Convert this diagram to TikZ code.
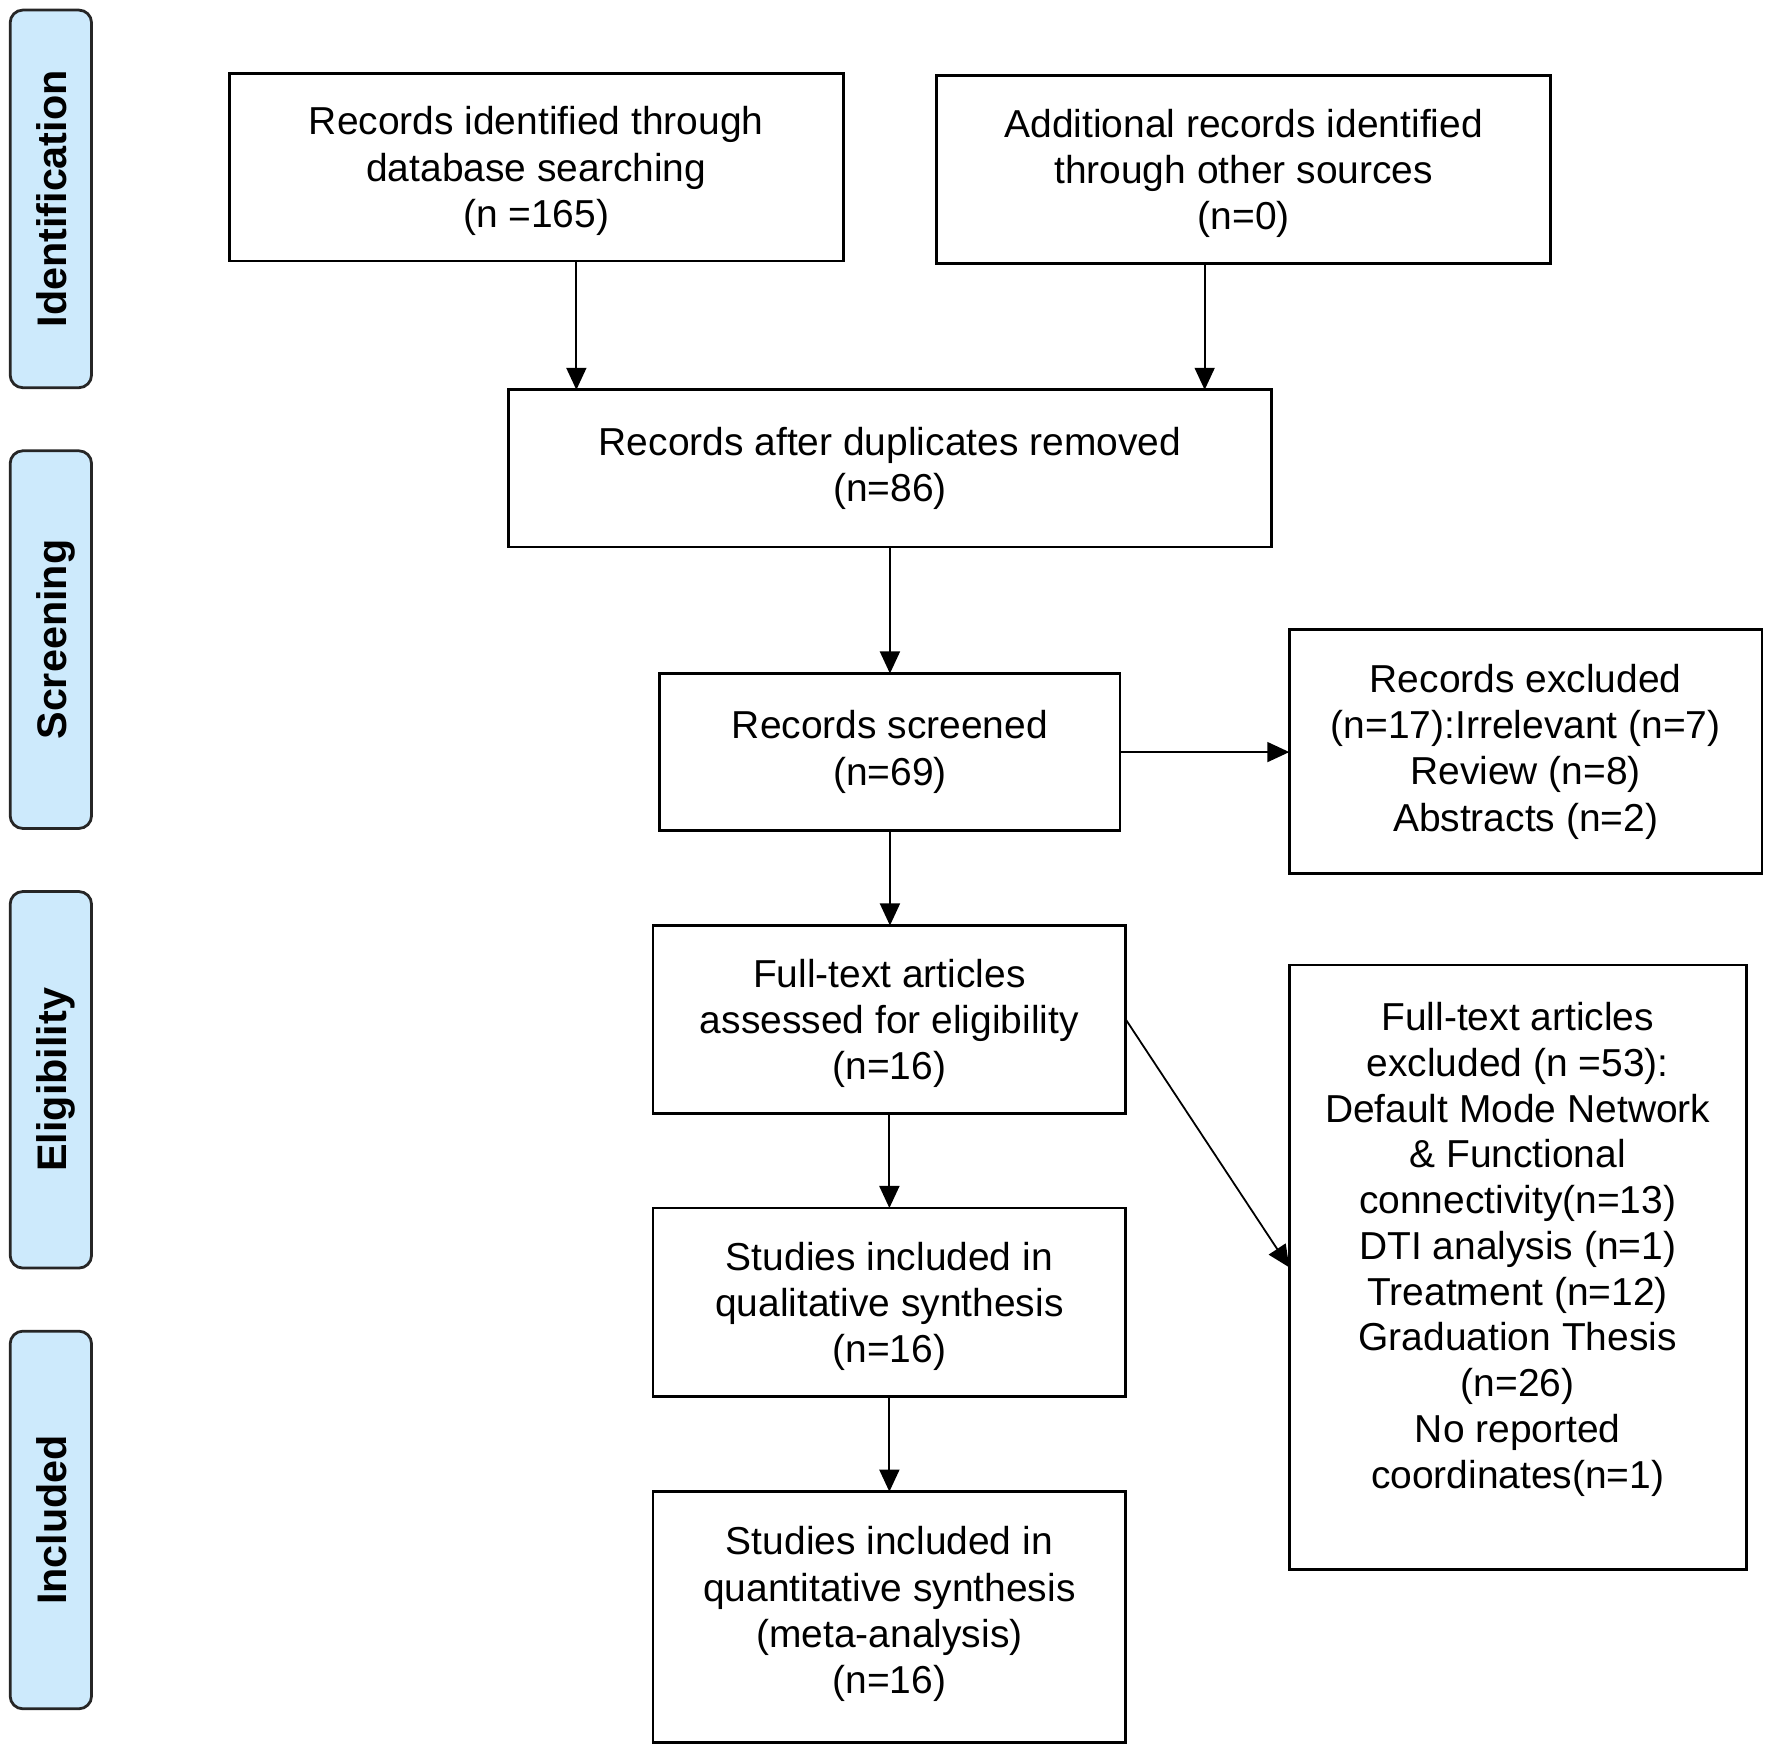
\documentclass[tikz,border=0pt]{standalone}
\usepackage{fontspec}
\setmainfont{Liberation Sans}
\usetikzlibrary{arrows.meta}
\definecolor{stageblue}{RGB}{205,234,252}
\begin{document}
\begin{tikzpicture}[x=0.01cm,y=-0.01cm,
  box/.style={draw=black, line width=0.7pt, fill=white, inner sep=0pt, outer sep=0pt,
    align=center, font=\fontsize{9.8}{11.67}\selectfont},
  low/.style={text depth=-1.3pt},
  stage/.style={draw=black!85, line width=0.7pt, fill=stageblue, rounded corners=3.2pt,
    rotate=90, inner sep=0pt, outer sep=0pt, minimum height=0.72cm,
    font=\fontsize{10.4}{12}\selectfont\bfseries, text height=0.78em, text depth=-0.05em},
  txt/.style={align=center, inner sep=0pt, font=\fontsize{9.8}{11.52}\selectfont},
  arr/.style={-{Triangle[length=0.195cm,width=0.177cm]}, line width=0.45pt}]
\useasboundingbox (0,0) rectangle (1568,1552);

% stage labels
\node[stage, minimum width=3.34cm] (s1) at (45,176) {Identification};
\node[stage, minimum width=3.34cm] (s2) at (45,566) {Screening};
\node[stage, minimum width=3.33cm] (s3) at (45,955.5) {Eligibility};
\node[stage, minimum width=3.34cm] (s4) at (45,1345) {Included};

% boxes
\node[box, low, minimum width=5.43cm, minimum height=1.66cm] (b1) at (474.5,148)
  {Records identified through\\database searching\\(n =165)};
\node[box, low, minimum width=5.43cm, minimum height=1.66cm] (b2) at (1100.5,150)
  {Additional records identified\\through other sources\\(n=0)};
\node[box, minimum width=6.75cm, minimum height=1.39cm] (b3) at (787.5,414.5)
  {Records after duplicates removed\\(n=86)};
\node[box, minimum width=4.07cm, minimum height=1.39cm] (b4) at (787.5,665.5)
  {Records screened\\(n=69)};
\node[box, minimum width=4.18cm, minimum height=2.16cm] (b5) at (1350,665)
  {Records excluded\\(n=17):Irrelevant (n=7)\\Review (n=8)\\Abstracts (n=2)};
\node[box, low, minimum width=4.18cm, minimum height=1.66cm] (b6) at (787,902)
  {Full-text articles\\assessed for eligibility\\(n=16)};
\node[box, low, minimum width=4.18cm, minimum height=1.67cm] (b7) at (787,1152.5)
  {Studies included in\\qualitative synthesis\\(n=16)};
\node[box, text depth=3.5pt, minimum width=4.18cm, minimum height=2.22cm] (b8) at (787,1431)
  {Studies included in\\quantitative synthesis\\(meta-analysis)\\(n=16)};
\node[box, minimum width=4.04cm, minimum height=5.35cm] (b9) at (1343,1121.5) {};
\node[txt] (t9) at (1343,1105.5)
  {Full-text articles\\excluded (n =53):\\Default Mode Network\\\& Functional\\connectivity(n=13)\\DTI analysis (n=1)\\Treatment (n=12)\\Graduation Thesis\\(n=26)\\No reported\\coordinates(n=1)};

% connectors
\coordinate (p1) at ([xshift=0.355cm]b1.south);
\coordinate (p2) at ([xshift=-0.345cm]b2.south);
\draw[arr] (p1) -- (p1 |- b3.north);
\draw[arr] (p2) -- (p2 |- b3.north);
\draw[arr] (b3.south) -- (b3.south |- b4.north);
\draw[arr] (b4.east) -- (b4.east -| b5.west);
\draw[arr] (b4.south) -- (b4.south |- b6.north);
\draw[arr] (b6.east) -- (b9.west);
\draw[arr] (b6.south) -- (b6.south |- b7.north);
\draw[arr] (b7.south) -- (b7.south |- b8.north);
\end{tikzpicture}
\end{document}
